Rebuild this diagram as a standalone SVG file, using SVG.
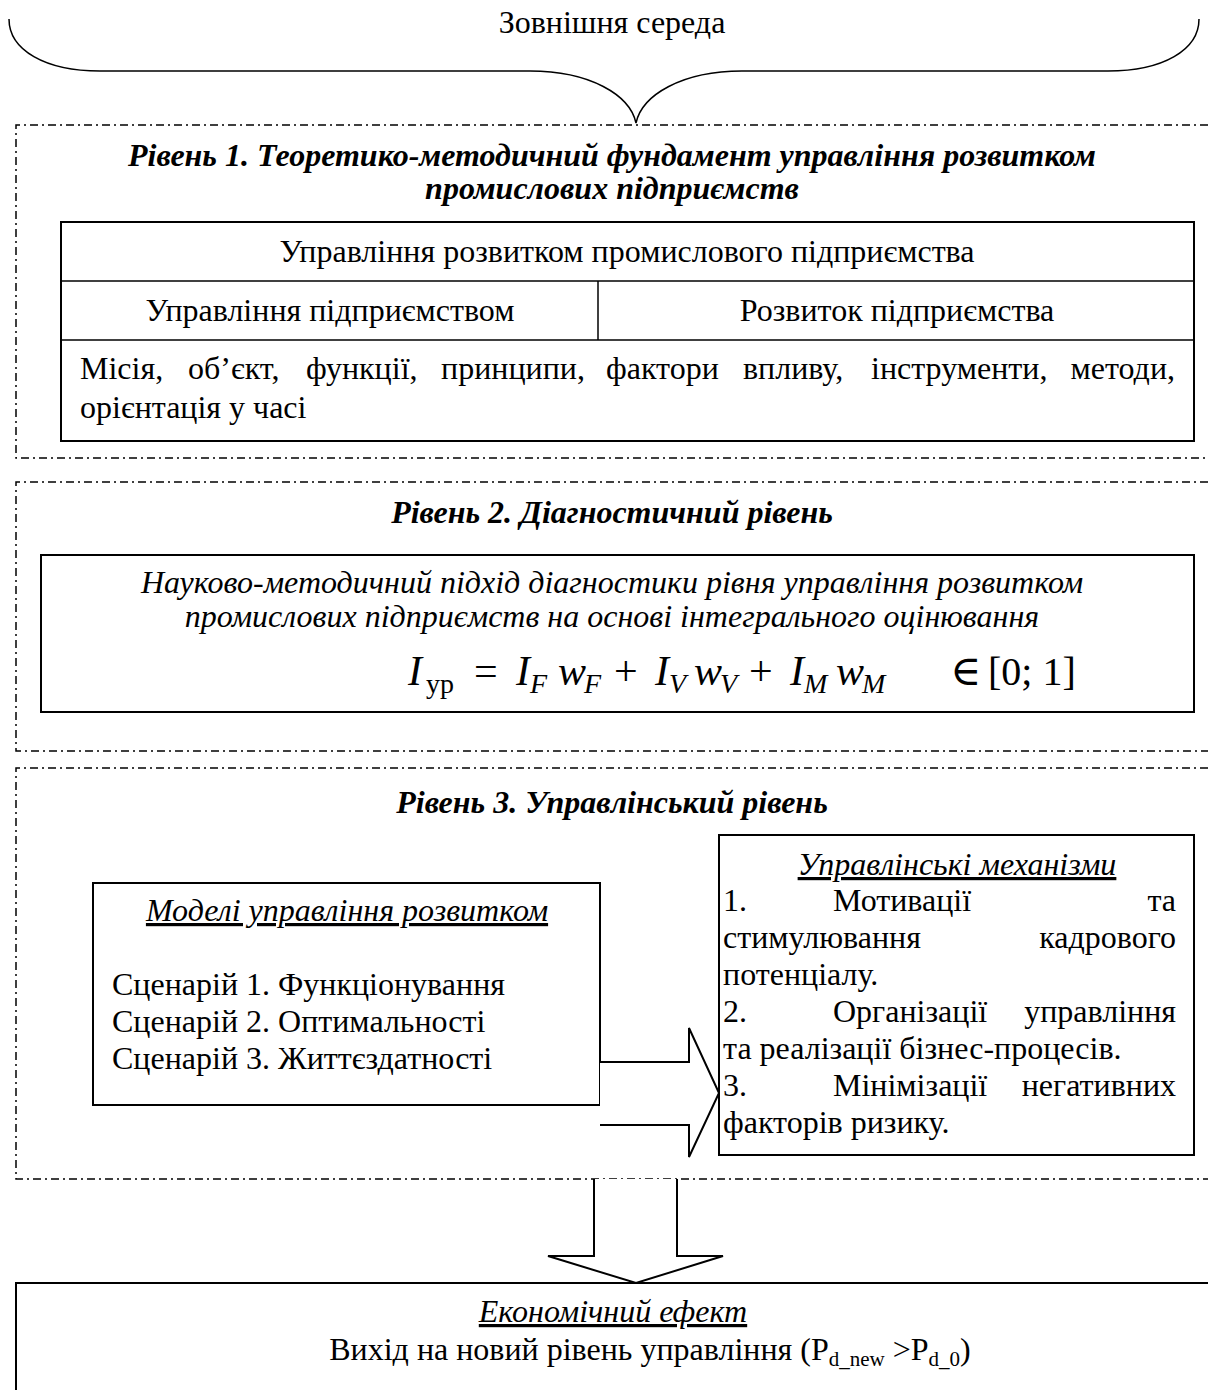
<svg xmlns="http://www.w3.org/2000/svg" width="1208" height="1390" viewBox="0 0 1208 1390">
<style>
.t{font-family:"Liberation Serif","Times New Roman",serif;font-size:32px;fill:#000}
.bi{font-weight:bold;font-style:italic}
.i{font-style:italic}
.u{text-decoration:underline}
.frame{fill:none;stroke:#000;stroke-width:1.5;stroke-dasharray:8 4 2 4}
.box{fill:#fff;stroke:#000;stroke-width:2}
.ln{fill:none;stroke:#000;stroke-width:1.5}
.arr{fill:#fff;stroke:#000;stroke-width:2;stroke-linejoin:miter}
.m{font-family:"Liberation Serif","DejaVu Serif",serif;font-size:42px;fill:#000}
.ms{font-size:28px}
</style>
<rect width="1208" height="1390" fill="#fff"/>

<g id="env">
<path class="ln" d="M9,19 C9,50 45,71 100,71 H530 C590,71 630,95 636,123 C642,95 682,71 742,71 H1108 C1163,71 1199,50 1199,19" stroke-width="2"/>
<text class="t" x="612" y="33" text-anchor="middle">Зовнішня середа</text>
</g>

<g id="level1">
<path class="frame" d="M1208,125 H16 V458 H1208"/>
<text class="t bi" x="612" y="166" text-anchor="middle">Рівень 1.  Теоретико-методичний фундамент управління розвитком</text>
<text class="t bi" x="612" y="199" text-anchor="middle">промислових підприємств</text>
<rect class="box" x="61" y="222" width="1133" height="219"/>
<line class="ln" x1="61" y1="281" x2="1194" y2="281"/>
<line class="ln" x1="61" y1="340" x2="1194" y2="340"/>
<line class="ln" x1="598" y1="281" x2="598" y2="340"/>
<text class="t" x="627" y="262" text-anchor="middle">Управління розвитком промислового  підприємства</text>
<text class="t" x="330" y="321" text-anchor="middle">Управління підприємством</text>
<text class="t" x="897" y="321" text-anchor="middle">Розвиток підприємства</text>
<text class="t" y="379"><tspan x="80">Місія,</tspan><tspan x="188">об’єкт,</tspan><tspan x="306">функції,</tspan><tspan x="441">принципи,</tspan><tspan x="606">фактори</tspan><tspan x="743">впливу,</tspan><tspan x="871">інструменти,</tspan><tspan x="1175" text-anchor="end">методи,</tspan></text>
<text class="t" x="80" y="418">орієнтація у часі</text>
</g>

<g id="level2">
<path class="frame" d="M1208,482 H16 V751 H1208"/>
<text class="t bi" x="612" y="523" text-anchor="middle">Рівень 2.  Діагностичний рівень</text>
<rect class="box" x="41" y="555" width="1153" height="157"/>
<text class="t i" x="612" y="593" text-anchor="middle">Науково-методичний підхід діагностики рівня управління розвитком</text>
<text class="t i" x="612" y="627" text-anchor="middle">промислових підприємств на основі інтегрального оцінювання</text>
<text class="m" y="685"><tspan x="408" font-style="italic">I</tspan><tspan class="ms" x="426" dy="8">ур</tspan><tspan x="474" dy="-8">=</tspan><tspan x="516" font-style="italic">I</tspan><tspan class="ms" x="530" dy="8" font-style="italic">F</tspan><tspan x="558" dy="-8" font-style="italic">w</tspan><tspan class="ms" x="584" dy="8" font-style="italic">F</tspan><tspan x="614" dy="-8">+</tspan><tspan x="655" font-style="italic">I</tspan><tspan class="ms" x="669" dy="8" font-style="italic">V</tspan><tspan x="694" dy="-8" font-style="italic">w</tspan><tspan class="ms" x="720" dy="8" font-style="italic">V</tspan><tspan x="749" dy="-8">+</tspan><tspan x="790" font-style="italic">I</tspan><tspan class="ms" x="804" dy="8" font-style="italic">M</tspan><tspan x="836" dy="-8" font-style="italic">w</tspan><tspan class="ms" x="862" dy="8" font-style="italic">M</tspan><tspan x="950" dy="-8">∈</tspan><tspan x="988" font-size="40">[0; 1]</tspan></text>
</g>

<g id="level3">
<path class="frame" d="M1208,768 H16 V1179 H1208"/>
<text class="t bi" x="612" y="813" text-anchor="middle">Рівень 3. Управлінський рівень</text>
</g>

<g id="models">
<rect class="box" x="93" y="883" width="507" height="222"/>
<text class="t i u" x="347" y="921" text-anchor="middle">Моделі управління розвитком</text>
<text class="t" x="112" y="995">Сценарій 1. Функціонування</text>
<text class="t" x="112" y="1032">Сценарій 2. Оптимальності</text>
<text class="t" x="112" y="1069">Сценарій 3. Життєздатності</text>
</g>

<g id="mechanisms">
<rect class="box" x="719" y="835" width="475" height="320"/>
<text class="t i u" x="957" y="875" text-anchor="middle">Управлінські механізми</text>
<text class="t" y="911"><tspan x="723">1.</tspan><tspan x="833">Мотивації</tspan><tspan x="1176" text-anchor="end">та</tspan></text>
<text class="t" y="948"><tspan x="723">стимулювання</tspan><tspan x="1176" text-anchor="end">кадрового</tspan></text>
<text class="t" x="723" y="985">потенціалу.</text>
<text class="t" y="1022"><tspan x="723">2.</tspan><tspan x="833">Організації</tspan><tspan x="1176" text-anchor="end">управління</tspan></text>
<text class="t" x="723" y="1059">та реалізації бізнес-процесів.</text>
<text class="t" y="1096"><tspan x="723">3.</tspan><tspan x="833">Мінімізації</tspan><tspan x="1176" text-anchor="end">негативних</tspan></text>
<text class="t" x="723" y="1133">факторів ризику.</text>
</g>

<g id="effect">
<rect class="box" x="16" y="1283" width="1200" height="120"/>
<text class="t i u" x="613" y="1322" text-anchor="middle">Економічний ефект</text>
<text class="t" x="650" y="1360" text-anchor="middle">Вихід на новий рівень управління (P<tspan font-size="21" dy="6">d_new</tspan><tspan dy="-6"> &gt;P</tspan><tspan font-size="21" dy="6">d_0</tspan><tspan dy="-6">)</tspan></text>
</g>

<g id="connectors">
<path class="arr" d="M600,1062 H689 V1028 L719,1093 L689,1157 V1125 H600"/>
<path class="arr" d="M594,1179 V1256 H548 L636,1283 L723,1256 H677 V1179"/>
</g>
</svg>
